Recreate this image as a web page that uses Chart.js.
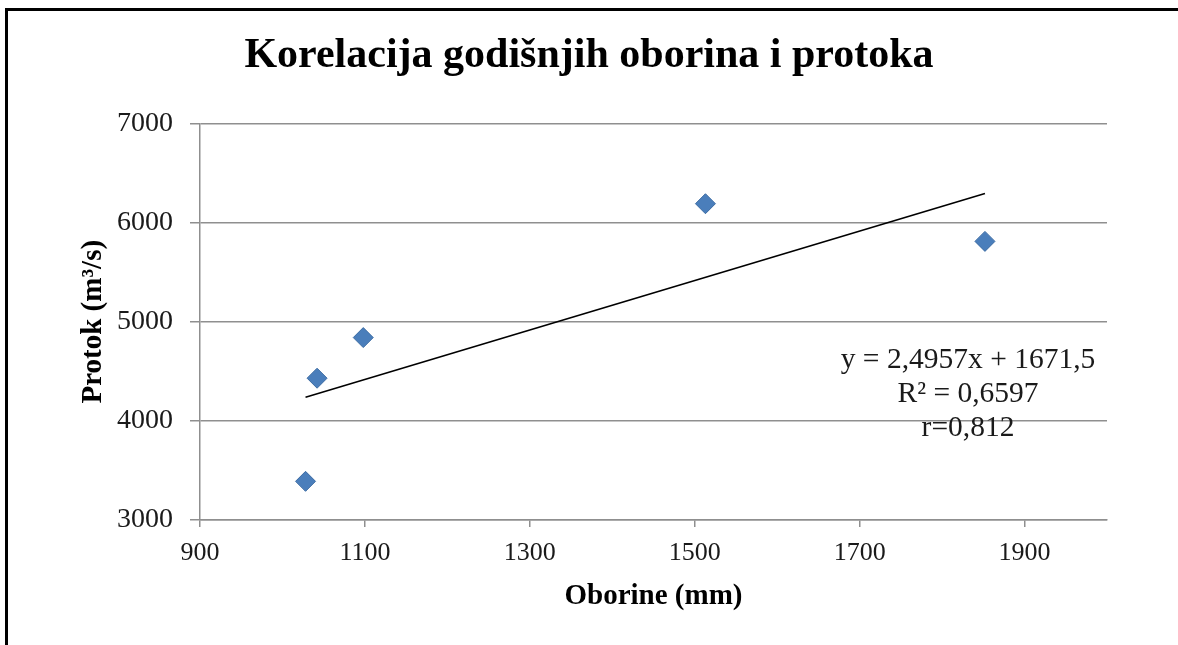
<!DOCTYPE html>
<html>
<head>
<meta charset="utf-8">
<script src="https://cdn.jsdelivr.net/npm/chart.js@4.4.1/dist/chart.umd.min.js"></script>
<style>
  html, body { margin: 0; padding: 0; background: #fff; }
  #frame { position: absolute; left: 5px; top: 8px; width: 1400px; height: 800px;
           border-left: 3px solid #000; border-top: 3px solid #000; }
  #wrap { position: absolute; left: 0; top: 0; width: 1178px; height: 645px; }
</style>
</head>
<body>
<div id="frame"></div>
<div id="wrap"><canvas id="chart" width="1178" height="645"></canvas></div>
<script>
// Podaci očitani s grafa
const oborine = [1028, 1042, 1098, 1513, 1852];   // mm
const protok  = [3390, 4430, 4840, 6190, 5810];   // m3/s
// krajnje točke linije trenda (y = 2,4957x + 1671,5)
const trendX = [1028, 1852];
const trendY = [4237, 6293];
const xTicks = [900, 1100, 1300, 1500, 1700, 1900];
const yTicks = [3000, 4000, 5000, 6000, 7000];
const trendText = ['y = 2,4957x + 1671,5', 'R² = 0,6597', 'r=0,812'];

const serif = "'Liberation Serif', 'Times New Roman', serif";
const gridGray = '#8f8f8f';

// Tekst jednadžbe trenda
const trendLabel = {
  id: 'trendLabel',
  afterDatasetsDraw(chart) {
    const { ctx, chartArea } = chart;
    ctx.save();
    ctx.font = '29.5px ' + serif;
    ctx.fillStyle = '#1a1a1a';
    ctx.textAlign = 'center';
    ctx.textBaseline = 'middle';
    const cx = chartArea.right - 139;
    trendText.forEach((t, i) => {
      ctx.fillText(t, cx, chartArea.top + 237 + i * 34);
    });
    ctx.restore();
  }
};

const ctx = document.getElementById('chart').getContext('2d');
new Chart(ctx, {
  type: 'scatter',
  data: {
    datasets: [
      {
        label: 'Protok',
        data: oborine.map((x, i) => ({ x: x, y: protok[i] })),
        pointStyle: 'rectRot',
        pointRadius: 10,
        pointHoverRadius: 10,
        backgroundColor: '#4a7ebb',
        borderColor: '#3d6ca3',
        borderWidth: 1
      },
      {
        type: 'line',
        label: 'Trend',
        data: trendX.map((x, i) => ({ x: x, y: trendY[i] })),
        borderColor: '#000',
        borderWidth: 1.6,
        pointRadius: 0,
        fill: false
      }
    ]
  },
  options: {
    responsive: false,
    animation: false,
    layout: { padding: 0 },
    plugins: {
      legend: { display: false },
      tooltip: { enabled: false },
      title: {
        display: true,
        text: 'Korelacija godišnjih oborina i protoka',
        color: '#000',
        font: { family: serif, size: 42, weight: 'bold' },
        padding: { top: 31, bottom: 42 }
      }
    },
    scales: {
      x: {
        type: 'linear',
        min: 900,
        max: 2000,
        afterBuildTicks: (scale) => { scale.ticks = xTicks.map(v => ({ value: v })); },
        afterFit: (scale) => { scale.height = 125; },
        grid: { drawOnChartArea: false, drawTicks: true, tickLength: 7, color: gridGray, lineWidth: 1.5 },
        border: { color: gridGray, width: 1.5 },
        ticks: { color: '#1a1a1a', font: { family: serif, size: 26 }, padding: 11,
                 callback: (v) => String(v) },
        title: {
          display: true,
          text: 'Oborine (mm)',
          color: '#000',
          font: { family: serif, size: 29, weight: 'bold' },
          padding: { top: 0, bottom: 31 }
        }
      },
      y: {
        type: 'linear',
        min: 3000,
        max: 7000,
        afterBuildTicks: (scale) => { scale.ticks = yTicks.map(v => ({ value: v })); },
        afterFit: (scale) => { scale.width = 200; },
        grid: { drawTicks: true, tickLength: 10, color: gridGray, lineWidth: 1.5 },
        border: { color: gridGray, width: 1.5 },
        ticks: { color: '#1a1a1a', font: { family: serif, size: 28 }, padding: 17,
                 callback: (v) => String(v) },
        title: {
          display: true,
          text: 'Protok (m³/s)',
          color: '#000',
          font: { family: serif, size: 29, weight: 'bold' },
          padding: { top: 76, bottom: 0 }
        }
      },
      // prazna desna os - samo da naslov ostane centriran na cijeloj širini
      yRight: {
        type: 'linear',
        position: 'right',
        afterFit: (scale) => { scale.width = 71; },
        grid: { display: false },
        border: { display: false },
        ticks: { display: false }
      }
    }
  },
  plugins: [trendLabel]
});
</script>
</body>
</html>
